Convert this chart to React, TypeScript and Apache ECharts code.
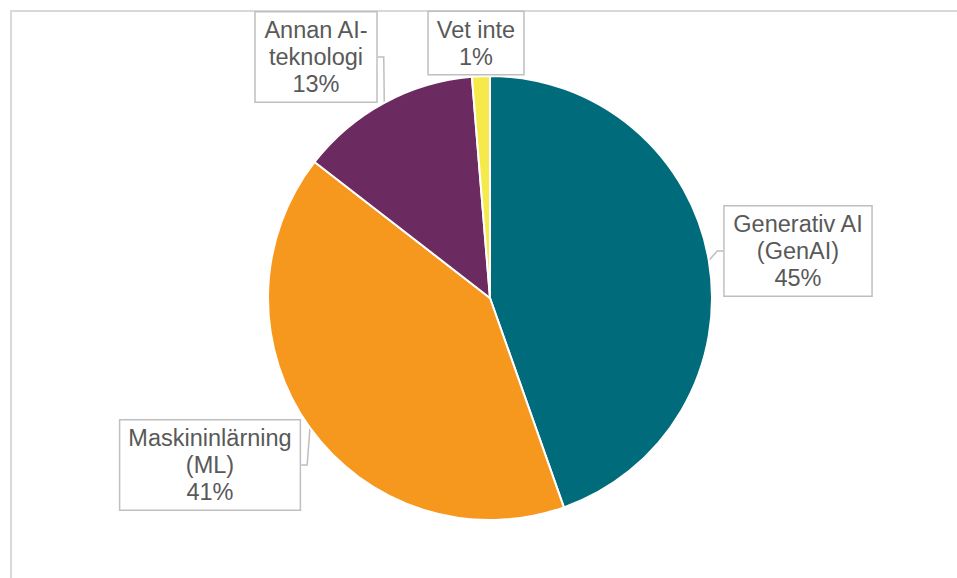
import React, { useEffect, useRef } from "react";
import * as echarts from "echarts";

const categories = ["Generativ AI\n(GenAI)", "Maskininlärning\n(ML)", "Annan AI-\nteknologi", "Vet inte"];
const values = [44.6, 40.9, 13.2, 1.3];
const colors = ["#006B7A", "#F7981E", "#6B2A60", "#F6EA4B"];
const labelCenters: [number, number][] = [
  [798, 251],
  [210, 465],
  [316, 57],
  [476, 43],
];

export default function App() {
  const ref = useRef<HTMLDivElement>(null);
  useEffect(() => {
    if (!ref.current) return;
    const chart = echarts.init(ref.current, undefined, { renderer: "svg" });
    chart.setOption({
      animation: false,
      backgroundColor: "#ffffff",
      graphic: [
        {
          type: "rect",
          shape: { x: 11, y: 11, width: 1200, height: 1200 },
          style: { fill: "none", stroke: "#d9d9d9", lineWidth: 2 },
          silent: true,
        },
      ],
      series: [
        {
          type: "pie",
          center: [490, 298],
          radius: [0, 222],
          startAngle: 90,
          clockwise: true,
          itemStyle: { borderColor: "#ffffff", borderWidth: 2 },
          data: categories.map((name, i) => ({
            name,
            value: values[i],
            itemStyle: { color: colors[i] },
          })),
          label: {
            show: true,
            position: "outside",
            formatter: (p: any) => `${p.name}\n${Math.round(p.value)}%`,
            fontFamily: "Liberation Sans, Arial, sans-serif",
            fontSize: 23.5,
            lineHeight: 27,
            color: "#595959",
            align: "center",
            backgroundColor: "#ffffff",
            borderColor: "#bfbfbf",
            borderWidth: 1.5,
            padding: [4, 8, 4, 8],
          },
          labelLine: {
            show: true,
            length: 6,
            length2: 6,
            lineStyle: { color: "#bfbfbf", width: 1.5 },
          },
          labelLayout: (params: any) => {
            const c = labelCenters[params.dataIndex];
            return { x: c[0], y: c[1], align: "center", verticalAlign: "middle" };
          },
        },
      ],
    });
    return () => chart.dispose();
  }, []);
  return (
    <div
      ref={ref}
      style={{ position: "fixed", left: 0, top: 0, width: 957, height: 578 }}
    />
  );
}
